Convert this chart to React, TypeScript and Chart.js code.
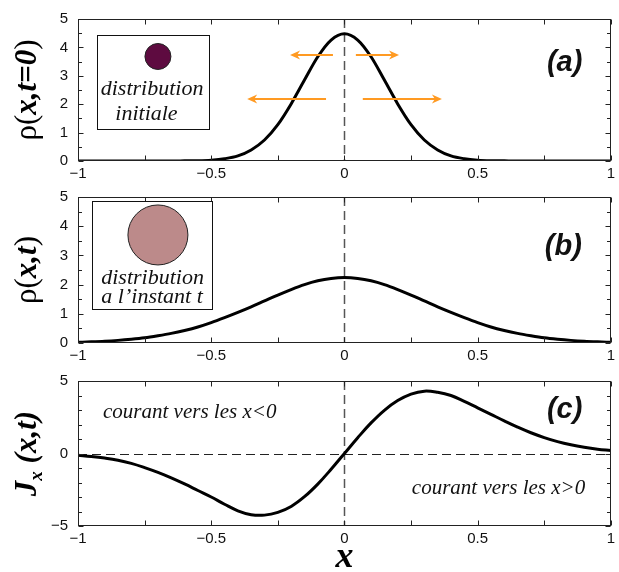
import React, { useEffect, useRef } from "react";
import { Chart, registerables } from "chart.js";

Chart.register(...registerables);

// ---------- data ----------
const X_VALUES = [
  -1, -0.95, -0.9, -0.85, -0.8, -0.75, -0.7, -0.65, -0.6, -0.55, -0.5, -0.45, -0.4, -0.35, -0.3, -0.25, -0.2, -0.15, -0.1, -0.05,
  0, 0.05, 0.1, 0.15, 0.2, 0.25, 0.3, 0.35, 0.4, 0.45, 0.5, 0.55, 0.6, 0.65, 0.7, 0.75, 0.8, 0.85, 0.9, 0.95, 1,
];

const RHO_INITIAL = [
  0, 0, 0, 0, 0, 0, 0, 0, 0.005, 0.01, 0.03, 0.08, 0.18, 0.39, 0.74, 1.28, 2.01, 2.85, 3.67, 4.26,
  4.48, 4.26, 3.67, 2.85, 2.01, 1.28, 0.74, 0.39, 0.18, 0.08, 0.03, 0.01, 0.005, 0, 0, 0, 0, 0, 0, 0, 0,
];

const RHO_T = [
  0.025, 0.04, 0.06, 0.09, 0.13, 0.18, 0.25, 0.33, 0.43, 0.55, 0.7, 0.87, 1.05, 1.24, 1.44, 1.64, 1.83, 2.0, 2.13, 2.21,
  2.24, 2.21, 2.13, 2.0, 1.83, 1.64, 1.44, 1.24, 1.05, 0.87, 0.7, 0.55, 0.43, 0.33, 0.25, 0.18, 0.13, 0.09, 0.06, 0.04, 0.025,
];

const CURRENT_J = [
  -0.12, -0.2, -0.31, -0.46, -0.68, -0.97, -1.3, -1.68, -2.1, -2.55, -3.0, -3.5, -3.95, -4.22, -4.25, -4.06, -3.65, -2.98, -2.11, -1.09,
  0, 1.09, 2.11, 2.98, 3.65, 4.1, 4.3, 4.22, 4.0, 3.6, 3.15, 2.7, 2.25, 1.82, 1.43, 1.1, 0.82, 0.6, 0.43, 0.3, 0.21,
];

const X_MINOR_TICKS = [-1, -0.75, -0.5, -0.25, 0, 0.25, 0.5, 0.75, 1];

// ---------- annotations (data coordinates) ----------
const ARROWS_A = [
  { from: -0.043, to: -0.204, y: 3.74 },
  { from: 0.043, to: 0.205, y: 3.74 },
  { from: -0.069, to: -0.365, y: 2.19 },
  { from: 0.069, to: 0.366, y: 2.19 },
];

const ORANGE = "#FF9A22";
const SERIF = "'Liberation Serif', 'Times New Roman', serif";
const SANS = "'Liberation Sans', Arial, sans-serif";

type Seg = { text: string; font: string; dy?: number };

function drawRotated(ctx: CanvasRenderingContext2D, segs: Seg[], cx: number, cy: number) {
  ctx.save();
  ctx.translate(cx, cy);
  ctx.rotate(-Math.PI / 2);
  ctx.textAlign = "left";
  ctx.textBaseline = "alphabetic";
  ctx.fillStyle = "#000";
  let total = 0;
  const widths: number[] = [];
  for (const s of segs) {
    ctx.font = s.font;
    const w = ctx.measureText(s.text).width;
    widths.push(w);
    total += w;
  }
  let x = -total / 2;
  segs.forEach((s, i) => {
    ctx.font = s.font;
    ctx.fillText(s.text, x, s.dy || 0);
    x += widths[i];
  });
  ctx.restore();
}

function arrow(ctx: CanvasRenderingContext2D, x0: number, x1: number, y: number) {
  const dir = Math.sign(x1 - x0);
  ctx.save();
  ctx.strokeStyle = ORANGE;
  ctx.fillStyle = ORANGE;
  ctx.lineWidth = 2;
  ctx.beginPath();
  ctx.moveTo(x0, y);
  ctx.lineTo(x1 - dir * 5, y);
  ctx.stroke();
  ctx.beginPath();
  ctx.moveTo(x1, y);
  ctx.lineTo(x1 - dir * 10, y - 4.5);
  ctx.lineTo(x1 - dir * 7, y);
  ctx.lineTo(x1 - dir * 10, y + 4.5);
  ctx.closePath();
  ctx.fill();
  ctx.restore();
}

function inset(ctx: CanvasRenderingContext2D, chart: any, box: any, circle: any, lines: any[]) {
  const sx = chart.scales.x, sy = chart.scales.y;
  const x0 = Math.round(sx.getPixelForValue(box.x0)) + 0.5;
  const x1 = Math.round(sx.getPixelForValue(box.x1)) + 0.5;
  const y0 = Math.round(sy.getPixelForValue(box.y0)) + 0.5;
  const y1 = Math.round(sy.getPixelForValue(box.y1)) + 0.5;
  ctx.save();
  ctx.fillStyle = "#fff";
  ctx.fillRect(x0, y0, x1 - x0, y1 - y0);
  ctx.strokeStyle = "#111";
  ctx.lineWidth = 1;
  ctx.strokeRect(x0, y0, x1 - x0, y1 - y0);
  ctx.beginPath();
  ctx.arc(sx.getPixelForValue(circle.x), sy.getPixelForValue(circle.y), circle.r, 0, Math.PI * 2);
  ctx.fillStyle = circle.color;
  ctx.fill();
  ctx.strokeStyle = "#222";
  ctx.stroke();
  ctx.fillStyle = "#111";
  ctx.font = `italic 22px ${SERIF}`;
  ctx.textAlign = "center";
  ctx.textBaseline = "alphabetic";
  for (const l of lines) {
    ctx.fillText(l.text, sx.getPixelForValue(l.x), sy.getPixelForValue(l.y));
  }
  ctx.restore();
}

function textAt(ctx: CanvasRenderingContext2D, chart: any, text: string, x: number, y: number, font: string, align: CanvasTextAlign = "left") {
  ctx.save();
  ctx.fillStyle = "#111";
  ctx.font = font;
  ctx.textAlign = align;
  ctx.textBaseline = "alphabetic";
  ctx.fillText(text, chart.scales.x.getPixelForValue(x), chart.scales.y.getPixelForValue(y));
  ctx.restore();
}

type Panel = {
  top: number;
  height: number;
  padTop: number;
  xAxisH: number;
  ys: number[];
  yMin: number;
  yMax: number;
  yStep: number;
  yMinor: number;
  hDash: boolean;
  smooth: "monotone" | "default";
  title: Seg[];
  extra: (ctx: CanvasRenderingContext2D, chart: any) => void;
};

const TITLE_FONT = 31;

const PANELS: Panel[] = [
  {
    top: 0,
    height: 184,
    padTop: 10,
    xAxisH: 23,
    ys: RHO_INITIAL,
    yMin: 0,
    yMax: 5,
    yStep: 1,
    yMinor: 0.5,
    hDash: false,
    smooth: "monotone",
    title: [
      { text: "ρ(", font: `${TITLE_FONT}px ${SERIF}` },
      { text: "x,t=0", font: `italic bold ${TITLE_FONT}px ${SERIF}` },
      { text: ")", font: `${TITLE_FONT}px ${SERIF}` },
    ],
    extra: (ctx, chart) => {
      inset(ctx, chart, { x0: -0.929, x1: -0.508, y0: 4.44, y1: 1.13 }, { x: -0.7, y: 3.68, r: 13, color: "#5E0B40" }, [
        { text: "distribution", x: -0.722, y: 2.32 },
        { text: "initiale", x: -0.743, y: 1.46 },
      ]);
      const sx = chart.scales.x, sy = chart.scales.y;
      for (const a of ARROWS_A) arrow(ctx, sx.getPixelForValue(a.from), sx.getPixelForValue(a.to), Math.round(sy.getPixelForValue(a.y)));
      textAt(ctx, chart, "(a)", 0.76, 3.18, `italic bold 29px ${SANS}`);
    },
  },
  {
    top: 178,
    height: 190,
    padTop: 15,
    xAxisH: 25,
    ys: RHO_T,
    yMin: 0,
    yMax: 5,
    yStep: 1,
    yMinor: 0.5,
    hDash: false,
    smooth: "monotone",
    title: [
      { text: "ρ(", font: `${TITLE_FONT}px ${SERIF}` },
      { text: "x,t", font: `italic bold ${TITLE_FONT}px ${SERIF}` },
      { text: ")", font: `${TITLE_FONT}px ${SERIF}` },
    ],
    extra: (ctx, chart) => {
      inset(ctx, chart, { x0: -0.947, x1: -0.497, y0: 4.87, y1: 1.17 }, { x: -0.7, y: 3.7, r: 30, color: "#BC8A8A" }, [
        { text: "distribution", x: -0.72, y: 2.03 },
        { text: "a l\u2019instant t", x: -0.722, y: 1.37 },
      ]);
      textAt(ctx, chart, "(b)", 0.752, 3.0, `italic bold 29px ${SANS}`);
    },
  },
  {
    top: 362,
    height: 210,
    padTop: 13,
    xAxisH: 46,
    ys: CURRENT_J,
    yMin: -5,
    yMax: 5,
    yStep: 5,
    yMinor: 1,
    hDash: true,
    smooth: "default",
    title: [
      { text: "J", font: `italic bold ${TITLE_FONT}px ${SERIF}` },
      { text: "x", font: `italic bold 19px ${SERIF}`, dy: 6 },
      { text: " (x,t)", font: `italic bold ${TITLE_FONT}px ${SERIF}` },
    ],
    extra: (ctx, chart) => {
      textAt(ctx, chart, "courant vers les x<0", -0.906, 2.42, `italic 21px ${SERIF}`);
      textAt(ctx, chart, "courant vers les x>0", 0.253, -2.79, `italic 21px ${SERIF}`);
      textAt(ctx, chart, "(c)", 0.76, 2.48, `italic bold 29px ${SANS}`);
      ctx.save();
      ctx.font = `italic bold 36px ${SERIF}`;
      ctx.fillStyle = "#000";
      ctx.textAlign = "center";
      ctx.textBaseline = "alphabetic";
      ctx.fillText("x", chart.scales.x.getPixelForValue(0), chart.chartArea.bottom + 41);
      ctx.restore();
    },
  },
];

function fmt(v: number) {
  return String(Math.round(v * 100) / 100).replace("-", "\u2212");
}

function makePlugin(p: Panel) {
  return {
    id: "panelDecor",
    beforeDatasetsDraw(chart: any) {
      const ctx: CanvasRenderingContext2D = chart.ctx;
      const { left, right, top, bottom } = chart.chartArea;
      const sx = chart.scales.x, sy = chart.scales.y;
      ctx.save();
      ctx.strokeStyle = "#555";
      ctx.lineWidth = 1.5;
      ctx.setLineDash([9, 5]);
      const x0 = Math.round(sx.getPixelForValue(0)) + 0.5;
      ctx.beginPath();
      ctx.moveTo(x0, top);
      ctx.lineTo(x0, bottom);
      ctx.stroke();
      if (p.hDash) {
        ctx.strokeStyle = "#222";
        ctx.lineWidth = 1.2;
        const y0 = Math.round(sy.getPixelForValue(0)) + 0.5;
        ctx.beginPath();
        ctx.moveTo(left, y0);
        ctx.lineTo(right, y0);
        ctx.stroke();
      }
      ctx.restore();
    },
    afterDraw(chart: any) {
      const ctx: CanvasRenderingContext2D = chart.ctx;
      const { left, right, top, bottom } = chart.chartArea;
      const sx = chart.scales.x, sy = chart.scales.y;
      ctx.save();
      ctx.strokeStyle = "#222";
      ctx.lineWidth = 1;
      const L = Math.round(left) + 0.5, R = Math.round(right) - 0.5, T = Math.round(top) + 0.5, B = Math.round(bottom) - 0.5;
      ctx.strokeRect(L, T, R - L, B - T);
      ctx.beginPath();
      for (const v of X_MINOR_TICKS) {
        const x = Math.round(sx.getPixelForValue(v)) + 0.5;
        ctx.moveTo(x, B);
        ctx.lineTo(x, B - 5);
        ctx.moveTo(x, T);
        ctx.lineTo(x, T + 5);
      }
      const n = Math.round((p.yMax - p.yMin) / p.yMinor);
      for (let i = 0; i <= n; i++) {
        const v = p.yMin + i * p.yMinor;
        const y = Math.round(sy.getPixelForValue(v)) + 0.5;
        const major = Math.abs(v - Math.round(v)) < 1e-6 && (p.yMinor >= 1 ? Math.abs(v) % 5 === 0 : true);
        const len = major ? 5 : 3.5;
        ctx.moveTo(L, y);
        ctx.lineTo(L + len, y);
        ctx.moveTo(R, y);
        ctx.lineTo(R - len, y);
      }
      ctx.stroke();
      ctx.restore();

      p.extra(ctx, chart);
      drawRotated(ctx, p.title, left - 42, (top + bottom) / 2);
    },
  };
}

function makeConfig(p: Panel): any {
  return {
    type: "line",
    data: {
      datasets: [
        {
          data: X_VALUES.map((x, i) => ({ x, y: p.ys[i] })),
          borderColor: "#000",
          borderWidth: 3,
          pointRadius: 0,
          cubicInterpolationMode: p.smooth,
          tension: p.smooth === "default" ? 0.4 : 0,
          fill: false,
        },
      ],
    },
    options: {
      animation: false,
      responsive: false,
      devicePixelRatio: 1,
      events: [],
      layout: { padding: { left: 0, right: 8, top: p.padTop, bottom: 0 } },
      plugins: { legend: { display: false }, tooltip: { enabled: false }, title: { display: false } },
      scales: {
        x: {
          type: "linear",
          min: -1,
          max: 1,
          grid: { display: false, drawTicks: false },
          border: { display: false },
          ticks: {
            stepSize: 0.5,
            padding: 4,
            color: "#111",
            maxRotation: 0,
            autoSkip: false,
            font: { family: SANS, size: 15 },
            callback: (v: any) => fmt(Number(v)),
          },
          afterFit: (s: any) => {
            s.height = p.xAxisH;
          },
        },
        y: {
          type: "linear",
          min: p.yMin,
          max: p.yMax,
          grid: { display: false, drawTicks: false },
          border: { display: false },
          ticks: {
            stepSize: p.yStep,
            padding: 10,
            color: "#111",
            font: { family: SANS, size: 15 },
            callback: (v: any) => fmt(Number(v)),
          },
          afterFit: (s: any) => {
            s.width = 78;
          },
        },
      },
    },
    plugins: [makePlugin(p)],
  };
}

export default function App() {
  const r0 = useRef<HTMLCanvasElement>(null);
  const r1 = useRef<HTMLCanvasElement>(null);
  const r2 = useRef<HTMLCanvasElement>(null);
  const refs = [r0, r1, r2];

  useEffect(() => {
    const charts = PANELS.map((p, i) => new Chart(refs[i].current as HTMLCanvasElement, makeConfig(p)));
    return () => charts.forEach((c) => c.destroy());
  }, []);

  return (
    <div style={{ position: "absolute", left: 0, top: 0, width: 619, height: 572, background: "#fff", overflow: "hidden" }}>
      {PANELS.map((p, i) => (
        <canvas
          key={i}
          ref={refs[i]}
          width={619}
          height={p.height}
          style={{ position: "absolute", left: 0, top: p.top, width: 619, height: p.height }}
        />
      ))}
    </div>
  );
}
